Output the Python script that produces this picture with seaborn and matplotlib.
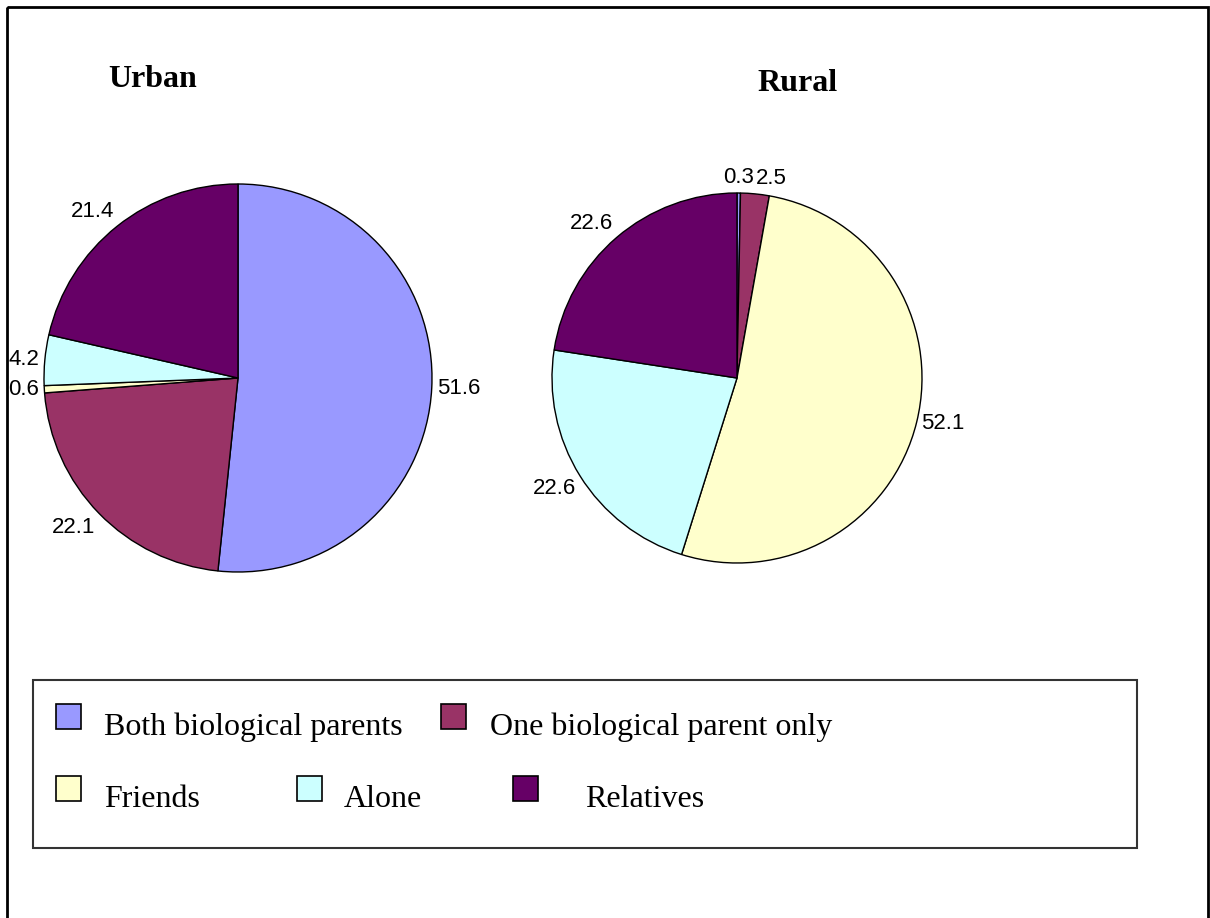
import numpy as np
import matplotlib
matplotlib.use("Agg")
import matplotlib.pyplot as plt
from matplotlib.patches import Rectangle
import seaborn as sns

# Living arrangement categories and their shares (%)
categories = ["Both biological parents", "One biological parent only",
              "Friends", "Alone", "Relatives"]
urban_values = [51.6, 22.1, 0.6, 4.2, 21.4]
rural_values = [0.3, 2.5, 52.1, 22.6, 22.6]
urban_labels = ["51.6", "22.1", "0.6", "4.2", "21.4"]
rural_labels = ["0.3", "2.5", "52.1", "22.6", "22.6"]
colors = ["#9999FF", "#993366", "#FFFFCC", "#CCFFFF", "#660066"]

sns.set_theme(style="white")
palette = sns.color_palette(colors)
plt.rcParams["font.family"] = ["Liberation Sans", "DejaVu Sans"]
plt.rcParams["text.color"] = "black"

W, H = 1210, 918
fig = plt.figure(figsize=(W / 100, H / 100), dpi=100)
fig.patch.set_facecolor("white")

# Overlay axes in pixel units for the frame, titles and legend box
over = fig.add_axes([0, 0, 1, 1], zorder=0)
over.set_xlim(0, W)
over.set_ylim(H, 0)
over.axis("off")
over.add_patch(Rectangle((7, 7), 1201, 940, fill=False, edgecolor="black", lw=2))


def pie_axes(cx, cy, half):
    ax = fig.add_axes([(cx - half) / W, 1 - (cy + half) / H, 2 * half / W, 2 * half / H],
                      zorder=2)
    ax.patch.set_alpha(0)
    return ax


def draw_pie(ax, values, labels, radius, half):
    wedges, _ = ax.pie(values, radius=radius, colors=palette, startangle=90,
                       counterclock=False,
                       wedgeprops=dict(edgecolor="black", linewidth=1.0))
    for w, lab in zip(wedges, labels):
        mid = np.deg2rad((w.theta1 + w.theta2) / 2)
        dx, dy = np.cos(mid), np.sin(mid)
        ha = "left" if dx > 0.05 else ("right" if dx < -0.05 else "center")
        va = "bottom" if dy > 0.3 else ("top" if dy < -0.3 else "center")
        r = radius + 5
        ax.text(r * dx, r * dy, lab, ha=ha, va=va, fontsize=16,
                family=["Liberation Sans", "DejaVu Sans"], color="black")
    ax.set_xlim(-half, half)
    ax.set_ylim(-half, half)
    ax.set_aspect("equal")
    ax.axis("off")


ax_u = pie_axes(238, 378, 240)
draw_pie(ax_u, urban_values, urban_labels, 194, 240)
ax_r = pie_axes(737, 378, 240)
draw_pie(ax_r, rural_values, rural_labels, 185, 240)

serif = ["Liberation Serif", "DejaVu Serif"]
over.text(153, 87, "Urban", ha="center", va="baseline", fontsize=23,
          fontweight="bold", family=serif, color="black")
over.text(797, 91, "Rural", ha="center", va="baseline", fontsize=23,
          fontweight="bold", family=serif, color="black")

# Legend box
over.add_patch(Rectangle((33, 680), 1104, 168, fill=False, edgecolor="#333333", lw=1.5))
legend_items = [
    (0, 56, 704, 104, 735),
    (1, 441, 704, 490, 735),
    (2, 56, 776, 104, 807),
    (3, 297, 776, 344, 807),
    (4, 513, 776, 585, 807),
]
for idx, sx, sy, tx, ty in legend_items:
    over.add_patch(Rectangle((sx, sy), 25, 25, facecolor=palette[idx],
                             edgecolor="black", lw=1.2))
    over.text(tx, ty, categories[idx], ha="left", va="baseline", fontsize=23,
              family=serif, color="black")

fig.savefig("out.png", dpi=100, facecolor="white")
